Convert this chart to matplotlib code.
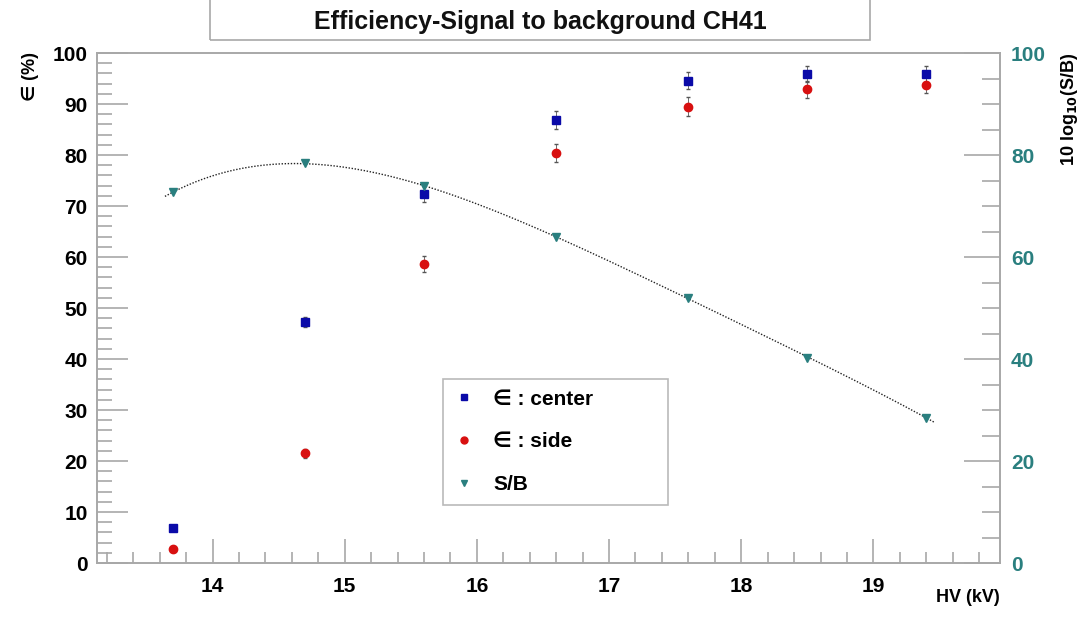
import numpy as np
import matplotlib
matplotlib.use("Agg")
import matplotlib.pyplot as plt
from matplotlib.ticker import MultipleLocator
from matplotlib.lines import Line2D

plt.rcParams['font.family'] = ['Liberation Sans', 'DejaVu Sans']

# HV points (kV)
hv = [13.7, 14.7, 15.6, 16.6, 17.6, 18.5, 19.4]

# efficiency (%) with errors
eff_center = [6.8, 47.3, 72.4, 86.9, 94.6, 95.9, 95.9]
err_center = [0.6, 1.0, 1.6, 1.8, 1.7, 1.6, 1.5]
eff_side = [2.7, 21.5, 58.6, 80.4, 89.5, 92.9, 93.8]
err_side = [0.5, 0.9, 1.6, 1.8, 1.8, 1.7, 1.7]

# 10 log10(S/B)
sb = [72.7, 78.4, 73.9, 63.9, 52.0, 40.3, 28.5]

blue = '#0a0aa8'
red = '#d81010'
teal = '#2a7f7f'
gray = '#a8a8a8'

fig = plt.figure(figsize=(10.88, 6.17), dpi=100)
ax = fig.add_axes([0.0894, 0.0875, 0.8296, 0.8265])
ax2 = ax.twinx()

ax.errorbar(hv, eff_center, yerr=err_center, fmt='s', color=blue, ms=6,
            ecolor='#555555', elinewidth=0.6, capsize=1.5)
ax.errorbar(hv, eff_side, yerr=err_side, fmt='o', color=red, ms=6,
            ecolor='#555555', elinewidth=0.6, capsize=1.5)

# polynomial fit to S/B points
coef = np.polyfit(hv, sb, 4)
xf = np.linspace(13.64, 19.46, 200)
ax2.plot(xf, np.polyval(coef, xf), color='#222222', ls=(0, (1, 1.2)), lw=1.0)
ax2.plot(hv, sb, 'v', color=teal, ms=6)

ax.set_xlim(13.128, 19.957)
ax.set_ylim(0, 100)
ax2.set_ylim(0, 100)

ax.xaxis.set_major_locator(MultipleLocator(1))
ax.xaxis.set_minor_locator(MultipleLocator(0.2))
ax.yaxis.set_major_locator(MultipleLocator(10))
ax.yaxis.set_minor_locator(MultipleLocator(2))
ax2.yaxis.set_major_locator(MultipleLocator(20))
ax2.yaxis.set_minor_locator(MultipleLocator(5))

ax.tick_params(axis='x', which='major', direction='in', length=17, width=1.2,
               color=gray, labelsize=15, pad=10, top=False)
ax.tick_params(axis='x', which='minor', direction='in', length=8, width=1.2,
               color=gray, top=False)
ax.tick_params(axis='y', which='major', direction='in', length=22, width=1.2,
               color=gray, labelsize=15, pad=7, right=False)
ax.tick_params(axis='y', which='minor', direction='in', length=11, width=1.2,
               color=gray, right=False)
ax2.tick_params(axis='y', which='major', direction='in', length=26, width=1.2,
                color=gray, labelsize=15, labelcolor=teal, pad=8)
ax2.tick_params(axis='y', which='minor', direction='in', length=13, width=1.2,
                color=gray)

for a in (ax, ax2):
    for s in a.spines.values():
        s.set_color(gray)
        s.set_linewidth(1.2)

for lab in ax.get_xticklabels() + ax.get_yticklabels() + ax2.get_yticklabels():
    lab.set_fontweight('bold')

fig.text(0.028, 0.915, '\u2208 (%)', rotation=90, ha='center', va='top',
         fontsize=13, fontweight='bold')
fig.text(0.983, 0.915, '10 log$_{\\mathbf{10}}$(S/B)', rotation=90, ha='center', va='top',
         fontsize=13, fontweight='bold')
fig.text(0.919, 0.018, 'HV (kV)', ha='right', va='bottom', fontsize=13,
         fontweight='bold')

# title box
fig.text(0.4963, 0.965, 'Efficiency-Signal to background CH41', ha='center', va='center',
         fontsize=18, fontweight='bold', color='#111111')
fig.patches.append(plt.Rectangle((0.193, 0.935), 0.607, 0.08, transform=fig.transFigure,
                                 fill=False, edgecolor=gray, lw=1.2))

handles = [Line2D([], [], ls='none', marker='s', color=blue, ms=5),
           Line2D([], [], ls='none', marker='o', color=red, ms=5),
           Line2D([], [], ls='none', marker='v', color=teal, ms=5)]
labels = ['\u2208 : center', '\u2208 : side', 'S/B']
leg = ax2.legend(handles, labels, loc='lower left',
                 bbox_to_anchor=(0.383, 0.114, 0.249, 0.245), mode='expand',
                 borderaxespad=0, fontsize=15, frameon=True, fancybox=False,
                 handlelength=1.0, handletextpad=0.9, labelspacing=1.14, borderpad=0.52)
leg.get_frame().set_edgecolor(gray)
leg.get_frame().set_linewidth(1.2)
for t in leg.get_texts():
    t.set_fontweight('bold')

fig.savefig('out.png', dpi=100)
